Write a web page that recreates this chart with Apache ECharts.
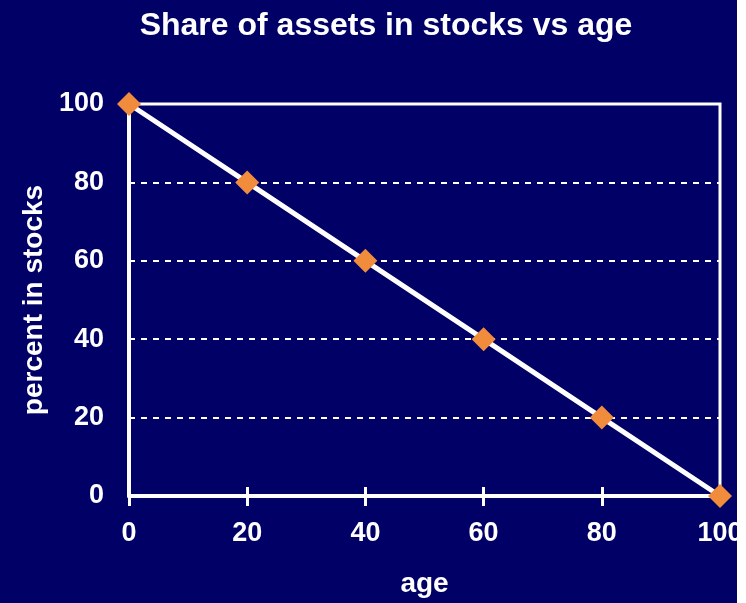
<!DOCTYPE html>
<html>
<head>
<meta charset="utf-8">
<script src="https://cdn.jsdelivr.net/npm/echarts@6/dist/echarts.min.js"></script>
<style>
  html, body { margin: 0; padding: 0; background: #ffffff; overflow: hidden; }
  #chart { width: 746px; height: 603px; background: #000066; }
  #edge { position: absolute; left: 737px; top: 0; width: 9px; height: 603px; background: #ffffff; }
</style>
</head>
<body>
<div id="chart"></div>
<div id="edge"></div>
<script>
// data
var ages = [0, 20, 40, 60, 80, 100];
var stockShare = [100, 80, 60, 40, 20, 0];

var chart = echarts.init(document.getElementById('chart'));

var points = ages.map(function (a, i) { return [a, stockShare[i]]; });

var font = 'Liberation Sans, Arial, sans-serif';
var tickFont = { color: '#ffffff', fontFamily: font, fontWeight: 'bold', fontSize: 27 };
var nameFont = { color: '#ffffff', fontFamily: font, fontWeight: 'bold', fontSize: 28 };

var option = {
    backgroundColor: '#000066',
    animation: false,

    title: {
        text: 'Share of assets in stocks vs age',
        left: 381,
        textAlign: 'center',
        top: 5,
        textStyle: {
            color: '#ffffff',
            fontFamily: font,
            fontWeight: 'bold',
            fontSize: 32
        }
    },

    grid: {
        left: 129,
        right: 26,
        top: 104,
        bottom: 103,
        show: true,
        borderColor: '#ffffff',
        borderWidth: 3
    },

    xAxis: [{
        type: 'value',
        min: 0,
        max: 100,
        interval: 20,
        name: 'age',
        nameLocation: 'middle',
        nameGap: 74,
        nameTextStyle: nameFont,
        axisLine: { show: true, lineStyle: { color: '#ffffff', width: 4 } },
        axisTick: { show: true, length: 10, lineStyle: { color: '#ffffff', width: 3 } },
        axisLabel: Object.assign({ margin: 24 }, tickFont),
        splitLine: { show: false }
    }, {
        // upper half of the ticks crossing the axis line
        type: 'value',
        position: 'bottom',
        min: 0,
        max: 100,
        interval: 20,
        axisLine: { show: false },
        axisTick: { show: true, inside: true, length: 9, lineStyle: { color: '#ffffff', width: 3 } },
        axisLabel: { show: false },
        splitLine: { show: false }
    }],

    yAxis: {
        type: 'value',
        min: 0,
        max: 100,
        interval: 20,
        name: 'percent in stocks',
        nameLocation: 'middle',
        nameGap: 80,
        nameTextStyle: nameFont,
        axisLine: { show: true, lineStyle: { color: '#ffffff', width: 4 } },
        axisTick: { show: false },
        axisLabel: Object.assign({ margin: 25 }, tickFont),
        splitLine: {
            show: true,
            lineStyle: { color: '#ffffff', width: 2, type: [6, 6] }
        }
    },

    series: [{
        type: 'line',
        data: points,
        symbol: 'diamond',
        symbolSize: 24,
        lineStyle: { color: '#ffffff', width: 5 },
        itemStyle: { color: '#f08c3c' },
        z: 5
    }]
};

chart.setOption(option);
</script>
</body>
</html>
